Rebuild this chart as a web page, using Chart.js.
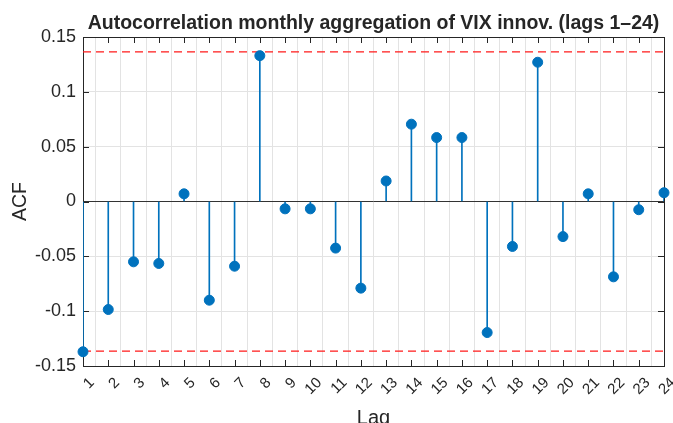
<!DOCTYPE html>
<html>
<head>
<meta charset="utf-8">
<script src="https://cdn.jsdelivr.net/npm/chart.js@4/dist/chart.umd.min.js"></script>
<style>
html,body{margin:0;padding:0;background:#ffffff;}
#wrap{width:673px;height:423px;position:relative;}
</style>
</head>
<body>
<div id="wrap"><canvas id="c" width="673" height="423"></canvas></div>
<script>
// ---- data ----
const lags = [1,2,3,4,5,6,7,8,9,10,11,12,13,14,15,16,17,18,19,20,21,22,23,24];
const acfValues = [-0.137,-0.0985,-0.055,-0.0565,0.007,-0.090,-0.059,0.133,-0.0067,-0.0067,-0.0425,-0.079,
                   0.0187,0.0705,0.0583,0.0583,-0.1195,-0.041,0.127,-0.032,0.007,-0.0687,-0.0075,0.008];
const confBound = 0.1365;
const titleText = 'Autocorrelation monthly aggregation of VIX innov. (lags 1\u201324)';
const xLabel = 'Lag';
const yLabel = 'ACF';

const FONT = '"Liberation Sans", Arial, Helvetica, sans-serif';
const AXIS_COLOR = '#262626';
const BLUE = '#0072BD';
const RED = '#ff1a1a';

Chart.defaults.font.family = FONT;
Chart.defaults.color = AXIS_COLOR;

const pts = lags.map((l, i) => ({x: l, y: acfValues[i]}));
const xMin = lags[0], xMax = lags[lags.length - 1];

const boxPlugin = {
  id: 'boxTicks',
  beforeDatasetsDraw(chart) {
    const {ctx, chartArea: a, scales: {x, y}} = chart;
    const tl = 6;
    ctx.save();
    ctx.strokeStyle = AXIS_COLOR;
    ctx.lineWidth = 1;
    ctx.beginPath();
    x.ticks.forEach(t => {
      const px = Math.round(x.getPixelForValue(t.value)) + 0.5;
      ctx.moveTo(px, a.bottom); ctx.lineTo(px, a.bottom - tl);
      ctx.moveTo(px, a.top); ctx.lineTo(px, a.top + tl);
    });
    y.ticks.forEach(t => {
      const py = Math.round(y.getPixelForValue(t.value)) + 0.5;
      ctx.moveTo(a.left, py); ctx.lineTo(a.left + tl, py);
      ctx.moveTo(a.right, py); ctx.lineTo(a.right - tl, py);
    });
    ctx.stroke();
    const l = Math.round(a.left) + 0.5, r = Math.round(a.right) + 0.5;
    const t0 = Math.round(a.top) + 0.5, b = Math.round(a.bottom) + 0.5;
    ctx.strokeRect(l, t0, r - l, b - t0);
    ctx.restore();
  }
};

new Chart(document.getElementById('c'), {
  type: 'bar',
  data: {
    datasets: [
      {
        type: 'line',
        label: 'upper',
        data: [{x: xMin, y: confBound}, {x: xMax, y: confBound}],
        borderColor: RED,
        borderWidth: 1.2,
        borderDash: [8, 5],
        pointRadius: 0,
        fill: false,
        order: 5
      },
      {
        type: 'line',
        label: 'lower',
        data: [{x: xMin, y: -confBound}, {x: xMax, y: -confBound}],
        borderColor: RED,
        borderWidth: 1.2,
        borderDash: [8, 5],
        pointRadius: 0,
        fill: false,
        order: 5
      },
      {
        type: 'line',
        label: 'baseline',
        data: [{x: xMin, y: 0}, {x: xMax, y: 0}],
        borderColor: '#333333',
        borderWidth: 1,
        pointRadius: 0,
        fill: false,
        order: 4
      },
      {
        type: 'bar',
        label: 'stems',
        data: pts,
        backgroundColor: BLUE,
        borderWidth: 0,
        barThickness: 1,
        grouped: false,
        order: 3
      },
      {
        type: 'scatter',
        label: 'ACF',
        data: pts,
        backgroundColor: BLUE,
        borderColor: BLUE,
        borderWidth: 1,
        pointRadius: 5,
        clip: false,
        order: 1
      }
    ]
  },
  options: {
    responsive: false,
    animation: false,
    devicePixelRatio: 1,
    layout: {padding: {left: 0, right: 9, top: 0, bottom: 0}},
    plugins: {
      legend: {display: false},
      tooltip: {enabled: false},
      title: {
        display: true,
        text: titleText,
        fullSize: false,
        color: AXIS_COLOR,
        font: {family: FONT, size: 19.5, weight: 'bold', lineHeight: 1},
        padding: {top: 14, bottom: 3.5}
      }
    },
    scales: {
      x: {
        type: 'linear',
        min: xMin,
        max: xMax,
        offset: false,
        afterFit(s) { s.height = 57; s.paddingLeft = 0; s.paddingRight = 0; },
        grid: {color: '#e3e3e3', drawTicks: false, lineWidth: 1},
        border: {display: false},
        ticks: {
          stepSize: 1,
          autoSkip: false,
          maxTicksLimit: 50,
          minRotation: 45,
          maxRotation: 45,
          padding: 8,
          labelOffset: 9,
          color: AXIS_COLOR,
          font: {size: 15}
        },
        title: {
          display: true,
          text: xLabel,
          color: AXIS_COLOR,
          font: {size: 20, lineHeight: 0.5},
          padding: {top: 0, bottom: 0}
        }
      },
      y: {
        type: 'linear',
        min: -0.15,
        max: 0.15,
        afterFit(s) { s.width = 83; s.paddingTop = 0; s.paddingBottom = 0; },
        grid: {color: '#e3e3e3', drawTicks: false, lineWidth: 1},
        border: {display: false},
        ticks: {
          stepSize: 0.05,
          padding: 7,
          color: AXIS_COLOR,
          font: {size: 18},
          callback: v => String(Math.round(v * 100) / 100)
        },
        title: {
          display: true,
          text: yLabel,
          color: AXIS_COLOR,
          font: {size: 19.5, lineHeight: 1.2},
          padding: {top: 9.3, bottom: 0}
        }
      }
    }
  },
  plugins: [boxPlugin]
});
</script>
</body>
</html>
